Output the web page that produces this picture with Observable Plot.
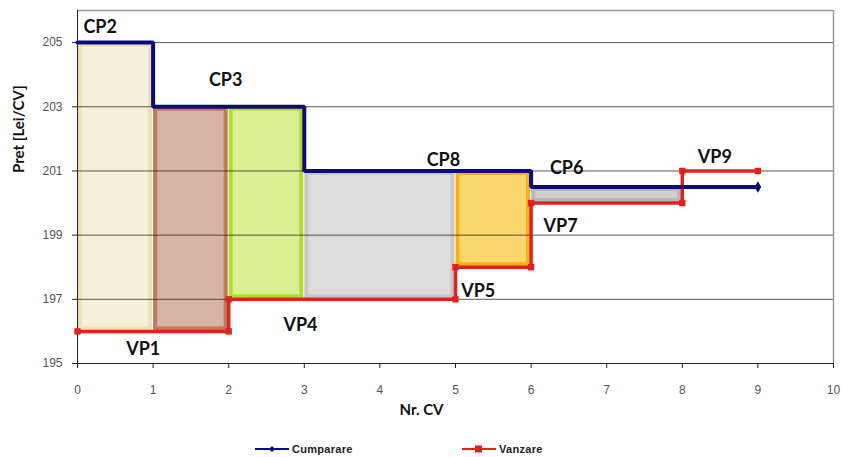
<!DOCTYPE html>
<html>
<head>
<meta charset="utf-8">
<script src="https://cdn.jsdelivr.net/npm/d3@7"></script>
<script src="https://cdn.jsdelivr.net/npm/@observablehq/plot@0.6"></script>
<style>
  html, body { margin: 0; padding: 0; background: #fff; }
  #wrap { position: relative; width: 842px; height: 457px; overflow: hidden; }
  #legend { position: absolute; left: 0; top: 440px; width: 842px; height: 17px;
            font-family: "Liberation Sans", Arial, sans-serif; font-size: 11px; font-weight: bold; color: #222; }
  .item { position: absolute; top: 2px; display: flex; align-items: center; }
  .item span { margin-left: 3px; letter-spacing: 0.3px; }
</style>
</head>
<body>
<div id="wrap">
  <div id="chart"></div>
  <div id="legend"></div>
</div>
<script>
// ---- data ----
const seriesNames = ["Cumparare", "Vanzare"];
const cumX = [0, 1, 1, 3, 3, 6, 6, 9];
const cumY = [205, 205, 203, 203, 201, 201, 200.5, 200.5];
const vanX = [0, 2, 2, 5, 5, 6, 6, 8, 8, 9];
const vanY = [196, 196, 197, 197, 198, 198, 200, 200, 201, 201];

const boxX1 = [0, 1, 2, 3, 5, 6];
const boxX2 = [1, 2, 3, 5, 6, 8];
const boxTop = [205, 203, 203, 201, 201, 200.5];
const boxBottom = [196, 196, 197, 197, 198, 200];

const labelNames = ["CP2", "CP3", "CP8", "CP6", "VP1", "VP4", "VP5", "VP7", "VP9"];
const labelX = [0.30, 1.96, 4.84, 6.47, 0.87, 2.95, 5.30, 6.39, 8.43];
const labelY = [205.47, 203.82, 201.34, 201.1, 195.43, 196.18, 197.24, 199.29, 201.43];

const xTicks = [0, 1, 2, 3, 4, 5, 6, 7, 8, 9, 10];
const yTicks = [195, 197, 199, 201, 203, 205];

// ---- styles ----
const boxFill = ["#f7f0d9", "#d8b4a4", "#d9f194", "#dcdcdc", "#fad86e", "#cfcfcf"];
const boxStroke = ["#ece0b6", "#bf7a58", "#b3dc2a", "#c8c8c8", "#f3b218", "#b9b9b9"];
const navy = "#0b0b7e";
const red = "#e3211c";

const cum = cumX.map((x, i) => ({x, y: cumY[i]}));
const van = vanX.map((x, i) => ({x, y: vanY[i]}));
const boxes = boxX1.map((x1, i) => ({x1, x2: boxX2[i], y1: boxBottom[i], y2: boxTop[i], f: boxFill[i], s: boxStroke[i]}));
const labels = labelNames.map((t, i) => ({t, x: labelX[i], y: labelY[i]}));

const chart = Plot.plot({
  width: 842,
  height: 428,
  marginLeft: 77,
  marginRight: 9,
  marginTop: 10,
  marginBottom: 65,
  style: {fontFamily: "'Liberation Sans', Arial, sans-serif", background: "#fff"},
  x: {domain: [0, 10], label: null},
  y: {domain: [195, 206], label: null},
  color: {type: "identity"},
  marks: [
    Plot.rect(boxes, {x1: "x1", x2: "x2", y1: "y1", y2: "y2", fill: d => d.f, stroke: d => d.s,
      strokeWidth: 4, insetLeft: 2.5, insetRight: 2.5, insetTop: 2.5, insetBottom: 2.5}),
    Plot.ruleY(yTicks.filter(d => d > 195), {stroke: "#222", strokeWidth: 1, strokeOpacity: 0.75}),
    // plot-area border (top + right)
    Plot.ruleY([206], {stroke: "#999", strokeWidth: 1.5}),
    Plot.ruleX([10], {stroke: "#999", strokeWidth: 1.5}),
    // axes lines
    Plot.ruleX([0], {stroke: "#222", strokeWidth: 1}),
    Plot.ruleY([195], {stroke: "#222", strokeWidth: 1}),
    Plot.axisX({ticks: xTicks, tickSize: 5, tickPadding: 17, fontSize: 12, color: "#555", stroke: "#222", tickFormat: d => d, label: null}),
    Plot.axisY({ticks: yTicks, tickSize: 5, tickPadding: 10, fontSize: 12, color: "#555", stroke: "#222", label: null}),
    Plot.line(van, {x: "x", y: "y", stroke: red, strokeWidth: 3.5, strokeLinejoin: "miter"}),
    Plot.dot(van, {x: "x", y: "y", symbol: "square", r: 3.6, fill: red}),
    Plot.line(cum, {x: "x", y: "y", stroke: navy, strokeWidth: 4, strokeLinejoin: "miter"}),
    Plot.dot(cum.slice(-1), {x: "x", y: "y", symbol: "diamond", r: 3.5, fill: navy}),
    Plot.text(labels, {x: "x", y: "y", text: "t", fontSize: 18, fontWeight: "bold",
      fontFamily: "Lato, 'Open Sans', sans-serif", fill: "#111"}),
    Plot.text(["Pret [Lei/CV]"], {frameAnchor: "left", dx: -58, dy: -14, rotate: -90,
      fontSize: 15, fontWeight: "bold", fontFamily: "Lato, 'Open Sans', sans-serif", fill: "#111"}),
    Plot.text(["Nr. CV"], {frameAnchor: "bottom", dx: -34, dy: 51,
      fontSize: 15, fontWeight: "bold", fontFamily: "Lato, 'Open Sans', sans-serif", fill: "#111"})
  ]
});
document.getElementById("chart").appendChild(chart);

// ---- legend ----
const legend = document.getElementById("legend");
const legendItems = [
  {name: seriesNames[0], color: navy, left: 255, marker: "diamond"},
  {name: seriesNames[1], color: red, left: 462, marker: "square"}
];
for (const it of legendItems) {
  const div = document.createElement("div");
  div.className = "item";
  div.style.left = it.left + "px";
  const m = it.marker === "square"
    ? `<rect x="13" y="3.5" width="7" height="7" fill="${it.color}"/>`
    : `<path d="M17,4 L20,7 L17,10 L14,7 Z" fill="${it.color}"/>`;
  div.innerHTML = `<svg width="34" height="14"><line x1="0" y1="7" x2="34" y2="7" stroke="${it.color}" stroke-width="2"/>${m}</svg><span>${it.name}</span>`;
  legend.appendChild(div);
}
</script>
</body>
</html>
